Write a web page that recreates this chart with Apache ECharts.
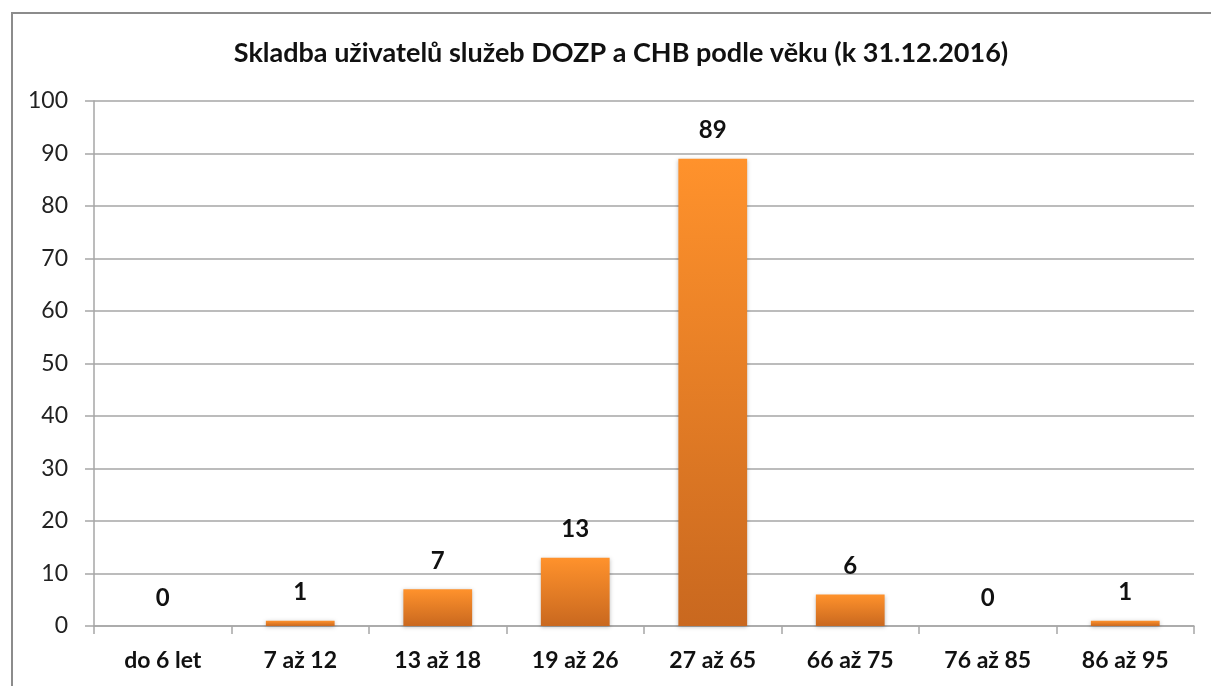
<!DOCTYPE html>
<html><head><meta charset="utf-8">
<script src="https://cdn.jsdelivr.net/npm/echarts@6/dist/echarts.min.js"></script>
<style>html,body{margin:0;padding:0;background:#fff}#c{width:1211px;height:686px}
#frame{position:absolute;left:11px;top:12px;width:1220px;height:700px;border:2px solid #8c8c8c;box-sizing:border-box;pointer-events:none}</style>
</head><body><div id="c"></div><div id="frame"></div>
<script>
const titleText = 'Skladba uživatelů služeb DOZP a CHB podle věku (k 31.12.2016)';
const categories = ['do 6 let','7 až 12','13 až 18','19 až 26','27 až 65','66 až 75','76 až 85','86 až 95'];
const values = [0,1,7,13,89,6,0,1];
const yTicks = {min:0,max:100,interval:10};
const font = 'Lato, "Open Sans", sans-serif';
const chart = echarts.init(document.getElementById('c'));
chart.setOption({
  animation:false,
  title:{text:titleText,left:616,top:35,textAlign:'center',textStyle:{fontFamily:font,fontSize:27,fontWeight:'bold',color:'#111'}},
  grid:{left:94,right:17,top:101,bottom:60},
  xAxis:{type:'category',data:categories,
    axisLine:{lineStyle:{color:'#a6a6a6',width:1.5}},
    axisTick:{show:true,length:8,lineStyle:{color:'#a6a6a6',width:1.5}},
    axisLabel:{fontFamily:font,fontSize:23,fontWeight:'bold',color:'#111',margin:23}},
  yAxis:{type:'value',min:yTicks.min,max:yTicks.max,interval:yTicks.interval,
    axisLine:{show:true,lineStyle:{color:'#a6a6a6',width:1.5}},
    axisTick:{show:true,length:9,lineStyle:{color:'#a6a6a6',width:1.5}},
    splitLine:{lineStyle:{color:'#a6a6a6',width:1.5}},
    axisLabel:{fontFamily:font,fontSize:23,color:'#222',margin:26}},
  series:[{type:'bar',data:values,barWidth:'50%',
    itemStyle:{color:new echarts.graphic.LinearGradient(0,0,0,1,[{offset:0,color:'#ff922c'},{offset:1,color:'#c9681f'}]),
      shadowBlur:4,shadowColor:'rgba(0,0,0,0.25)',shadowOffsetY:1},
    label:{show:true,position:'top',distance:16,fontFamily:font,fontSize:24,fontWeight:'bold',color:'#111'}}]
});
</script></body></html>
